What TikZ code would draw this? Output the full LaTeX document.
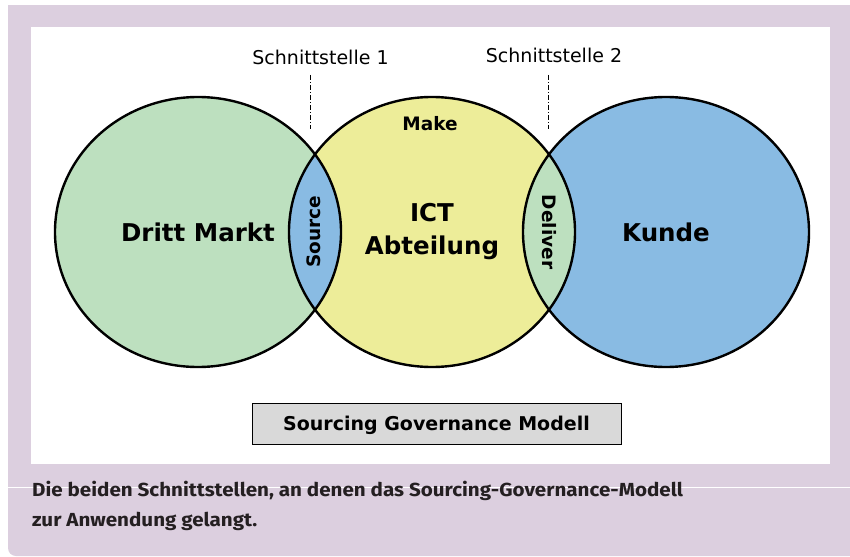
\documentclass[tikz,border=0pt]{standalone}
\usepackage{fontspec}
\setmainfont{DejaVu Sans}
\newfontfamily\capfont[FakeStretch=1.09]{Fira Sans}
\usetikzlibrary{shapes.geometric}

\definecolor{lila}{RGB}{220,207,223}
\definecolor{markt}{RGB}{189,224,191}
\definecolor{ict}{RGB}{237,237,153}
\definecolor{kunde}{RGB}{137,187,227}
\definecolor{modell}{RGB}{217,217,217}
\definecolor{captext}{RGB}{36,31,33}

\tikzset{
  kreis/.style={ellipse, minimum width=286pt, minimum height=270pt, inner sep=0pt,
    align=center, font=\fontsize{24.5}{33}\selectfont\bfseries},
  rand/.style={line width=2.4pt},
  schnitt/.style={line width=0.8pt, dash pattern=on 5pt off 2pt on 1pt off 2pt},
  schnittlabel/.style={inner sep=0pt, font=\fontsize{19}{22}\selectfont},
  linse/.style={inner sep=0pt, font=\fontsize{18.5}{22}\selectfont\bfseries},
  caption/.style={anchor=base west, inner sep=0pt, text=captext,
    font=\capfont\fontsize{18.9}{22}\selectfont\bfseries},
}

\begin{document}
\begin{tikzpicture}[x=1pt, y=-1pt]
  \useasboundingbox (0,0) rectangle (850,556);

  % Rahmen
  \fill[lila, rounded corners=8pt] (8,-20) rectangle (870,556);
  \fill[white] (0,0) rectangle (850,5);
  \fill[white] (31,27) rectangle (830,464);
  \draw[white, line width=1pt] (8,487) -- (850,487);

  % Kreise
  \node[kreis, fill=markt] (markt) at (198,232) {Dritt Markt};
  \node[kreis, fill=ict] (ict) at (432,232) {ICT\\Abteilung};
  \node[kreis, fill=kunde] (kunde) at (666,232) {Kunde};

  \begin{scope}
    \clip (markt.center) ellipse [x radius=143pt, y radius=135pt];
    \fill[kunde] (ict.center) ellipse [x radius=143pt, y radius=135pt];
  \end{scope}
  \begin{scope}
    \clip (kunde.center) ellipse [x radius=143pt, y radius=135pt];
    \fill[markt] (ict.center) ellipse [x radius=143pt, y radius=135pt];
  \end{scope}

  \foreach \k in {markt, ict, kunde}
    \draw[rand] (\k.center) ellipse [x radius=143pt, y radius=135pt];

  \node[linse] (make) at (430,124) {Make};
  \node[linse, rotate=90] (source) at (314,232) {Source};
  \node[linse, rotate=-90] (deliver) at (549,232) {Deliver};

  % Schnittstellen
  \node[schnittlabel] (s1) at (320.5,57) {Schnittstelle 1};
  \node[schnittlabel] (s2) at (554,55) {Schnittstelle 2};
  \foreach \n/\x in {1/310, 2/548} {
    \coordinate (oben\n) at (\x,75);
    \coordinate (unten\n) at (\x,129);
    \draw[schnitt] (oben\n) -- (unten\n);
  }

  \node[draw, fill=modell, line width=0.8pt, minimum width=369pt, minimum height=41pt,
    text height=13.9pt, text depth=0pt,
    font=\fontsize{19}{22}\selectfont\bfseries] (modell) at (436.5,423.5)
    {Sourcing Governance Modell};

  % Bildunterschrift
  \node[caption] (cap1) at (32,496)
    {Die beiden Schnittstellen, an denen das Sourcing-Governance-Modell};
  \node[caption] (cap2) at (32,526) {zur Anwendung gelangt.};
\end{tikzpicture}
\end{document}
